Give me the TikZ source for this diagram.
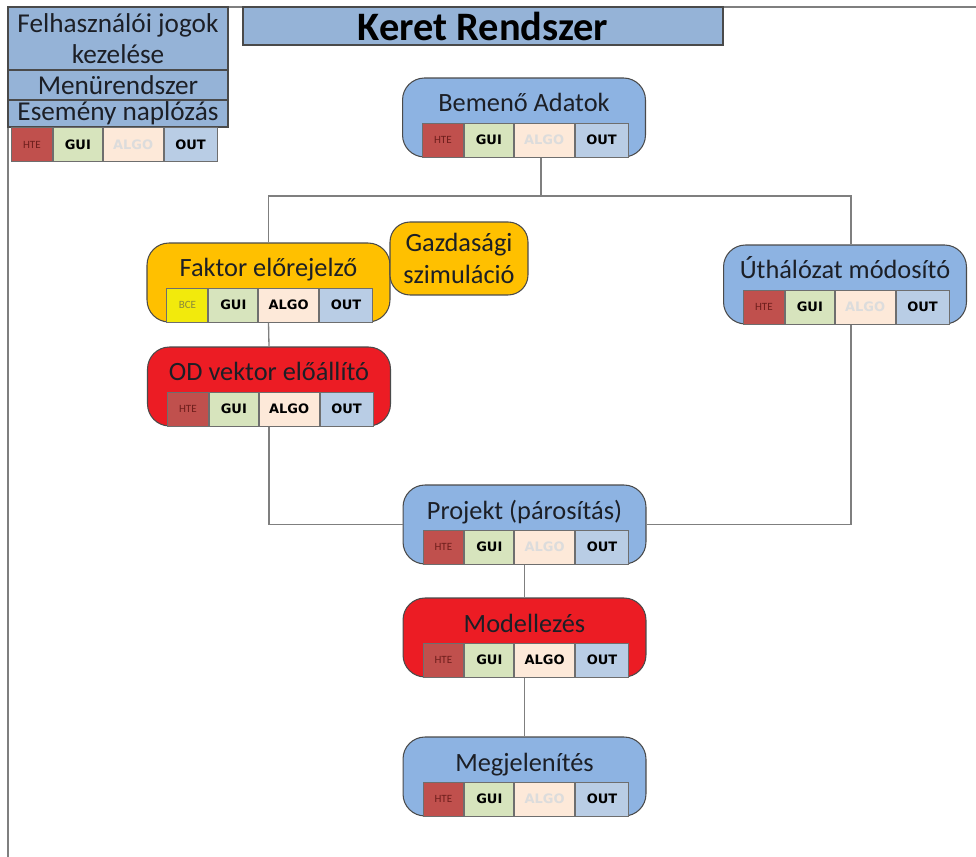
\documentclass[tikz,border=0pt]{standalone}
\usepackage{fontspec}
\setmainfont{Carlito}
\newfontfamily\tagfont{DejaVu Sans}
\usetikzlibrary{positioning,calc}
\definecolor{kerInk}{HTML}{1C1F26}
\definecolor{kerGray}{HTML}{7F7F7F}
\definecolor{kerEdge}{HTML}{4A4A4A}
\definecolor{kerBlue}{HTML}{8DB3E2}
\definecolor{kerStack}{HTML}{95B3D7}
\definecolor{kerOrange}{HTML}{FFC000}
\definecolor{kerRed}{HTML}{EC1C24}
\definecolor{tagHTE}{HTML}{C0504D}
\definecolor{tagHTEInk}{HTML}{6E1E1C}
\definecolor{tagBCE}{HTML}{F2EA0C}
\definecolor{tagBCEInk}{HTML}{8A8A3A}
\definecolor{tagGUI}{HTML}{D7E4BD}
\definecolor{tagALGO}{HTML}{FDE9D9}
\definecolor{tagGhost}{HTML}{DCDCDC}
\definecolor{tagOUT}{HTML}{B9CDE5}
\tikzset{
  every picture/.style={font=\fontsize{15}{18.5}\selectfont, text=kerInk},
  frame line/.style={draw=kerGray, line width=1.1pt},
  link/.style={draw=kerGray, line width=0.75pt},
  stack box/.style={draw=kerEdge, line width=0.7pt, fill=kerStack,
    minimum width=4.4cm, inner sep=0pt, align=center,
    font=\fontsize{15.5}{18}\selectfont},
  mod box/.style={draw=kerEdge, line width=0.6pt, rounded corners=0.44cm,
    minimum width=4.86cm, minimum height=1.58cm, inner ysep=0pt,
    text height=0.68cm, text depth=0.9cm, align=center},
  mod blue/.style={mod box, fill=kerBlue},
  mod orange/.style={mod box, fill=kerOrange},
  mod red/.style={mod box, fill=kerRed},
  tag/.style={draw=kerEdge!80, line width=0.5pt, minimum height=0.68cm,
    inner sep=0pt, text=black, font=\tagfont\bfseries\fontsize{7.4}{8}\selectfont},
  hte tag/.style={fill=tagHTE, text=tagHTEInk, minimum width=0.82cm,
    font=\fontsize{6.3}{7}\selectfont},
  bce tag/.style={fill=tagBCE, text=tagBCEInk, minimum width=0.82cm,
    font=\fontsize{6.3}{7}\selectfont},
  gui tag/.style={fill=tagGUI, minimum width=0.98cm},
  algo on/.style={fill=tagALGO, minimum width=1.2cm},
  algo off/.style={algo on, text=tagGhost},
  out tag/.style={fill=tagOUT, minimum width=1.06cm}
}
% #1 row name, #2 south west corner, #3 first tag text, #4 first tag style, #5 algo style
\newcommand{\tagrow}[5]{%
  \node[tag, #4, anchor=south west] (#1-a) at #2 {#3};
  \node[tag, gui tag, right=0pt of #1-a] (#1-b) {GUI};
  \node[tag, #5, right=0pt of #1-b] (#1-c) {ALGO};
  \node[tag, out tag, right=0pt of #1-c] (#1-d) {OUT};
}

\begin{document}
\begin{tikzpicture}[x=0.02cm,y=-0.02cm]
  \useasboundingbox (0,0) rectangle (976,857);
  \draw[frame line] (8,857) -- (8,7) -- (976,7);

  % keret: jobb felso fejlec es bal oldali modulok
  \node[stack box, minimum width=9.6cm, minimum height=0.76cm,
    font=\bfseries\fontsize{23}{25}\selectfont, text=black] (keret) at (483,26) {Keret Rendszer};
  \node[stack box, minimum height=1.26cm] (jogok) at (118,38.5) {Felhasználói jogok\\kezelése};
  \node[stack box, minimum height=0.6cm] (menu) at (118,85) {Menürendszer};
  \node[stack box, minimum height=0.54cm] (naplo) at (118,113.5) {Esemény naplózás};
  \tagrow{keretrow}{(11,162)}{HTE}{hte tag}{algo off}

  % modulok
  \node[mod blue] (bemeno) at (524,117.5) {Bemenő Adatok};
  \node[mod orange] (faktor) at (268.5,282.5) {Faktor előrejelző};
  \node[mod orange, minimum width=2.76cm, minimum height=1.46cm,
    text height=, text depth=, inner sep=0pt, rounded corners=0.4cm] (gazd) at (459,258.5) {Gazdasági\\szimuláció};
  \node[mod red] (od) at (269,386.5) {OD vektor előállító};
  \node[mod blue] (uthalo) at (845,284.5) {Úthálózat módosító};
  \node[mod blue] (projekt) at (524.5,524.5) {Projekt (párosítás)};
  \node[mod red] (modell) at (524.5,637.5) {Modellezés};
  \node[mod blue] (megjel) at (524.5,776.5) {Megjelenítés};

  \tagrow{bemenorow}{($(bemeno.south west)+(20,0)$)}{HTE}{hte tag}{algo off}
  \tagrow{faktorrow}{($(faktor.south west)+(20,0)$)}{BCE}{bce tag}{algo on}
  \tagrow{odrow}{($(od.south west)+(20,0)$)}{HTE}{hte tag}{algo on}
  \tagrow{uthalorow}{($(uthalo.south west)+(20,0)$)}{HTE}{hte tag}{algo off}
  \tagrow{projektrow}{($(projekt.south west)+(20,0)$)}{HTE}{hte tag}{algo off}
  \tagrow{modellrow}{($(modell.south west)+(20,0)$)}{HTE}{hte tag}{algo on}
  \tagrow{megjelrow}{($(megjel.south west)+(20,0)$)}{HTE}{hte tag}{algo off}

  % kapcsolatok
  \coordinate (hub) at (541,196);
  \coordinate (rightrail) at (851,0);
  \draw[link] (bemeno.south -| hub) -- (hub);
  \draw[link] (faktor.north) |- (hub) -| (uthalo.north -| rightrail);
  \draw[link] (faktor.south) -- (od.north);
  \draw[link] (od.south) |- (projekt.west);
  \draw[link] (uthalo.south -| rightrail) |- (projekt.east);
  \draw[link] (projekt.south) -- (modell.north);
  \draw[link] (modell.south) -- (megjel.north);
\end{tikzpicture}
\end{document}
